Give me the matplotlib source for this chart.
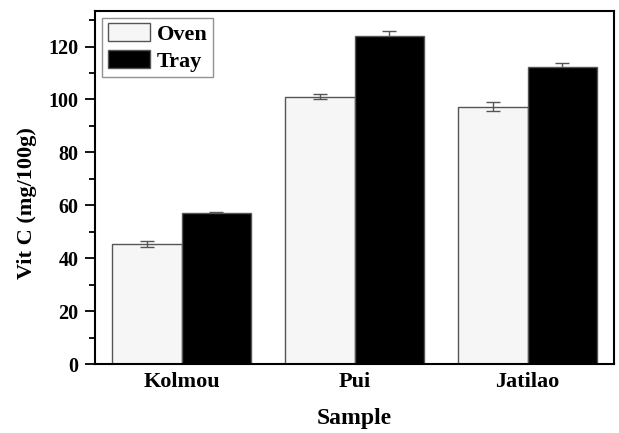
import numpy as np
import matplotlib
matplotlib.use('Agg')
import matplotlib.pyplot as plt
from matplotlib.ticker import MultipleLocator

plt.rcParams['font.family'] = ['Liberation Serif', 'DejaVu Serif']
plt.rcParams['font.weight'] = 'bold'

samples = ['Kolmou', 'Pui', 'Jatilao']
oven = [45.4, 101.1, 97.3]
oven_err = [1.2, 1.1, 1.6]
tray = [57.0, 123.9, 112.4]
tray_err = [0.6, 1.8, 1.2]

fig = plt.figure(figsize=(6.19, 4.33), dpi=100)
ax = fig.add_axes([0.1535, 0.159, 0.8385, 0.816])

x = np.arange(len(samples))
w = 0.4
err_kw = dict(ecolor='#555555', elinewidth=1.0, capsize=5, capthick=1.0)
ax.bar(x - w / 2, oven, w, color='#f6f6f6', edgecolor='#555555',
       linewidth=1.0, label='Oven', zorder=2)
ax.errorbar(x - w / 2, oven, yerr=oven_err, fmt='none', zorder=3, **err_kw)
ax.bar(x + w / 2, tray, w, color='black', edgecolor='#555555',
       linewidth=1.0, label='Tray', zorder=2)
ax.errorbar(x + w / 2, tray, yerr=tray_err, fmt='none', zorder=1, **err_kw)

ax.set_xlim(-0.5, 2.5)
ax.set_ylim(0, 133.5)
ax.set_xticks(x)
ax.set_xticklabels(samples, fontsize=16, fontweight='bold')
ax.tick_params(axis='x', length=0, pad=6)
ax.yaxis.set_major_locator(MultipleLocator(20))
ax.yaxis.set_minor_locator(MultipleLocator(10))
ax.tick_params(axis='y', which='major', length=7, width=1.3, labelsize=14.5, pad=5)
ax.tick_params(axis='y', which='minor', length=4, width=1.3)
for lbl in ax.get_yticklabels():
    lbl.set_fontweight('bold')
for s in ax.spines.values():
    s.set_linewidth(1.5)

ax.set_xlabel('Sample', fontsize=17, fontweight='bold', labelpad=11)
ax.set_ylabel('Vit C (mg/100g)', fontsize=16, fontweight='bold',
              va='center')
ax.yaxis.set_label_coords(-0.131, 0.456)

leg = ax.legend(loc='upper left', fontsize=16, frameon=True, fancybox=False,
                borderaxespad=0.32, handlelength=1.9, handleheight=0.86,
                handletextpad=0.3, borderpad=0.25, labelspacing=0.22)
leg.get_frame().set_edgecolor('#777777')
leg.get_frame().set_linewidth(1.0)
for t in leg.get_texts():
    t.set_fontweight('bold')

fig.savefig('out.png', dpi=100)
